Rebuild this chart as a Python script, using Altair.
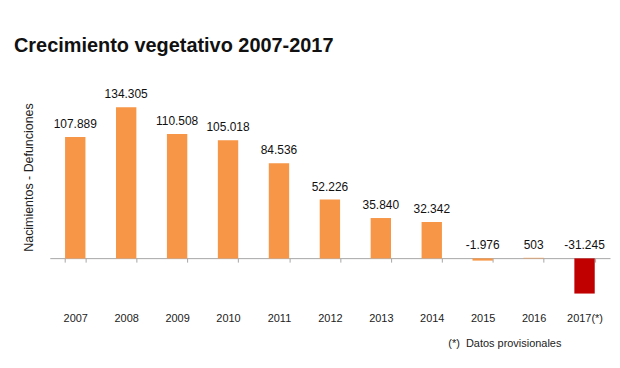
import altair as alt
import pandas as pd

# Data
years = ["2007", "2008", "2009", "2010", "2011", "2012", "2013", "2014", "2015", "2016", "2017(*)"]
values = [107889, 134305, 110508, 105018, 84536, 52226, 35840, 32342, -1976, 503, -31245]
status = ["definitivo"] * 10 + ["provisional"]

labels = [f"{v:,}".replace(",", ".") for v in values]

df = pd.DataFrame({"year": years, "value": values, "status": status, "label": labels})

font = "Liberation Sans"

x_enc = alt.X(
    "year:N",
    sort=years,
    scale=alt.Scale(paddingInner=0.6, paddingOuter=0.3),
    axis=alt.Axis(
        title="(*)\u00a0\u00a0Datos provisionales",
        titleX=400,
        titleY=86,
        titleAlign="left",
        titleBaseline="middle",
        titleFont=font,
        titleFontSize=11,
        titleFontWeight="normal",
        titleColor="#222222",
        labelAngle=0,
        labelFont=font,
        labelFontSize=11,
        labelColor="#222222",
        labelPadding=51,
        tickBand="extent",
        tickSize=4,
        tickColor="#A6A6A6",
        domainColor="#A6A6A6",
        offset=-45.5,
        grid=False,
    ),
)

y_scale = alt.Scale(domain=[-40000, 158000], nice=False, zero=True)

bars = alt.Chart(df).mark_bar().encode(
    x=x_enc,
    y=alt.Y(
        "value:Q",
        scale=y_scale,
        axis=alt.Axis(
            title="Nacimientos - Defunciones",
            labels=False,
            ticks=False,
            domain=False,
            grid=False,
            titleX=-21,
            titleY=97,
            titleAlign="center",
            titleBaseline="middle",
            titleFont=font,
            titleFontSize=12.5,
            titleFontWeight="normal",
            titleColor="#222222",
        ),
    ),
    color=alt.Color(
        "status:N",
        scale=alt.Scale(domain=["definitivo", "provisional"], range=["#F79646", "#C00000"]),
        legend=None,
    ),
)

text = alt.Chart(df).transform_calculate(
    ypos="max(datum.value, 0)"
).mark_text(
    baseline="alphabetic", dy=-9, font=font, fontSize=12, color="#111111"
).encode(
    x=alt.X("year:N", sort=years),
    y=alt.Y("ypos:Q", scale=y_scale),
    text="label:N",
)

chart = alt.layer(bars, text).properties(
    width=563,
    height=224,
    autosize=alt.AutoSizeParams(type="none"),
    padding={"left": 42, "top": 72, "right": 2, "bottom": 56},
    title=alt.TitleParams(
        "Crecimiento vegetativo 2007-2017",
        anchor="start",
        font=font,
        fontSize=20,
        fontWeight="bold",
        color="#111111",
        dx=-9,
        offset=25,
    ),
).configure_view(stroke=None)

chart.save("out.html", embed_options={"renderer": "svg", "actions": False})
